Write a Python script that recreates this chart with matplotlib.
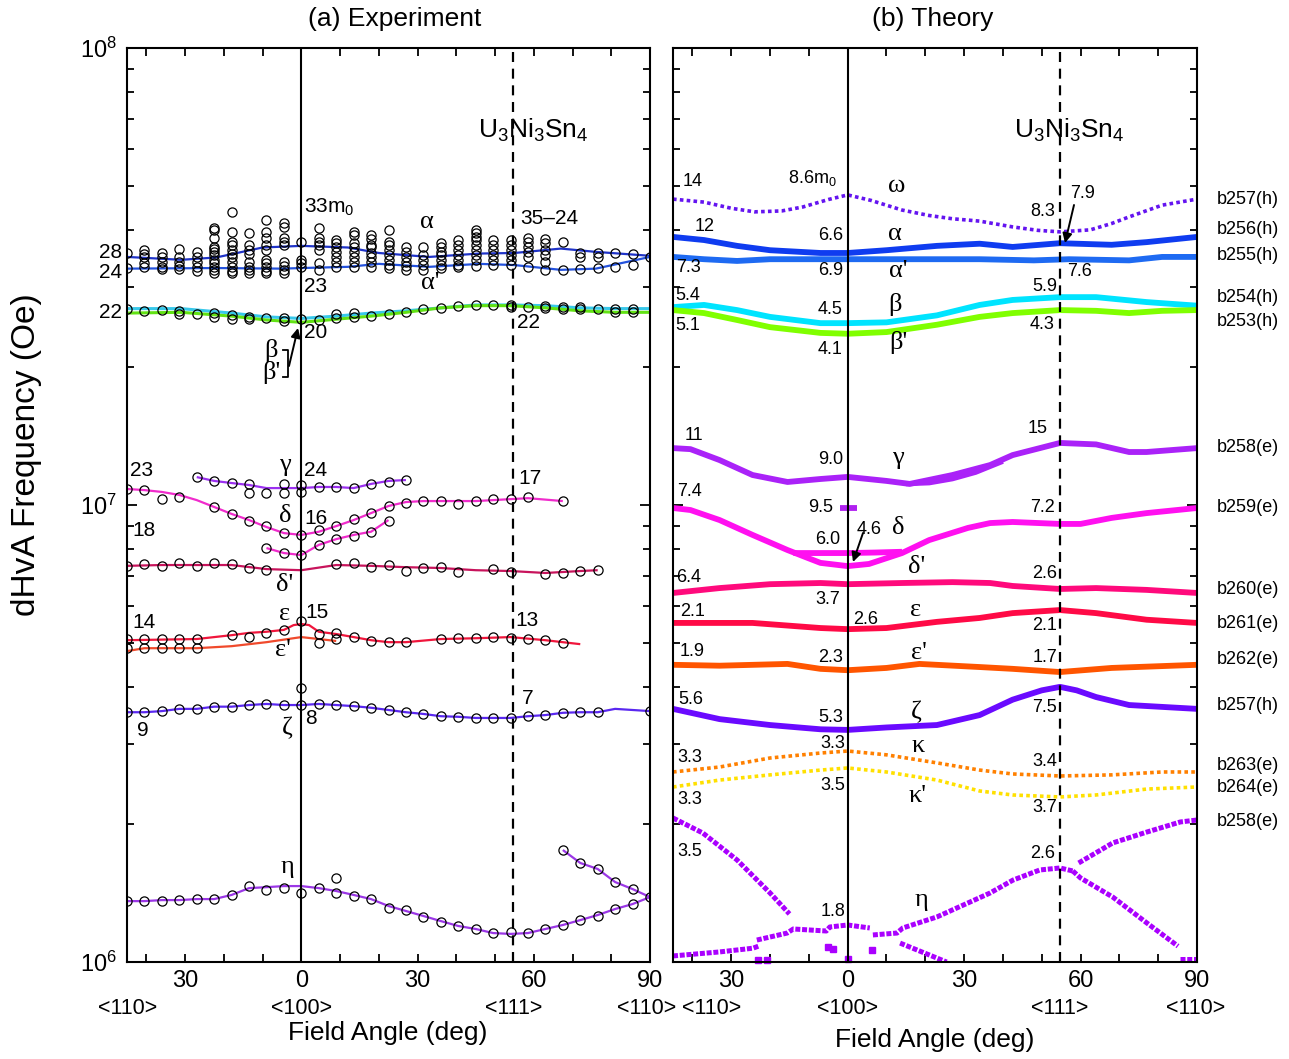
import math
import matplotlib.pyplot as plt
import matplotlib.ticker as mticker
from matplotlib.lines import Line2D
from matplotlib.patches import FancyArrowPatch

W, H = 1289, 1059
SANS = 'Liberation Sans'
SERIF = 'Liberation Serif'
MOE = 1e6  # frequencies below are in units of 10^6 Oe
SYM = 54.74  # <111>

plt.rcParams['font.family'] = [SANS, 'DejaVu Sans']
plt.rcParams['axes.linewidth'] = 1.5
for a in ('xtick', 'ytick'):
    plt.rcParams[a + '.direction'] = 'in'
    plt.rcParams[a + '.major.width'] = 1.3
    plt.rcParams[a + '.minor.width'] = 1.3
plt.rcParams['xtick.top'] = True
plt.rcParams['ytick.right'] = True

# ---------------- (a) experiment : measured points ----------------
col_ang = [-45, -40.5, -36, -31.5, -27, -22.5, -18, -13.5, -9, -4.5, 0, 4.5, 9, 13.5, 18,
           22.5, 27, 31.5, 36, 40.5, 45, 49.5, 54, 58.5, 63, 67.5, 72, 76.5, 81, 85.5, 90]
alpha_pts = [
    [35.6, 33.0], [36.2, 35.5, 34.8, 33.9, 33.2], [35.6, 34.9, 34.1, 33.2, 32.9],
    [36.4, 34.9, 34.1, 33.4, 32.9], [35.8, 34.9, 34.1, 33.2, 32.5],
    [40.4, 40.0, 38.4, 36.7, 36.4, 35.8, 35.3, 34.4, 33.9, 33.2, 32.7, 32.2],
    [43.8, 39.6, 37.7, 37.1, 36.2, 35.5, 34.8, 34.1, 33.2, 32.5, 32.2],
    [39.4, 37.1, 36.2, 35.5, 34.1, 33.2, 32.7, 32.2],
    [42.1, 39.6, 38.4, 37.1, 36.2, 34.4, 33.9, 33.2, 32.5, 32.2],
    [41.4, 40.6, 38.4, 37.7, 37.1, 34.1, 33.4, 32.7, 32.2],
    [37.7, 34.4, 33.9, 33.2], [40.4, 38.4, 37.7, 37.1, 36.2, 33.9, 32.7],
    [38.0, 37.5, 36.7, 35.8, 34.9, 34.1, 33.2], [39.6, 39.0, 37.5, 36.7, 35.8, 34.9, 34.1, 33.2],
    [39.0, 38.2, 37.1, 36.6, 35.6, 34.8, 34.1, 33.2], [40.0, 37.7, 37.1, 36.2, 35.3, 34.4, 33.5, 33.0],
    [36.6, 35.8, 34.9, 34.1, 33.4, 32.7], [36.7, 35.3, 34.4, 33.5, 32.7],
    [37.5, 36.7, 35.8, 35.3, 34.4, 33.5, 33.0], [38.0, 37.1, 36.2, 35.3, 34.4, 33.5, 33.2],
    [40.0, 39.4, 38.6, 38.0, 37.1, 36.2, 35.3, 34.4, 33.4], [38.0, 37.1, 36.2, 35.3, 34.4, 33.5],
    [38.0, 37.1, 36.2, 35.3, 34.4, 33.5], [38.4, 37.7, 36.7, 35.8, 34.9, 33.2],
    [38.2, 37.5, 36.2, 35.3, 34.1, 32.7], [37.7, 32.7], [35.6, 34.8, 32.9], [35.6, 34.9, 33.0],
    [35.6, 33.2], [35.5, 33.5], [34.9],
]
beta_pts = [
    [26.9], [26.6], [26.7], [26.6, 26.2], [26.2], [26.3, 25.8], [26.0, 25.5], [25.8, 25.5],
    [25.6], [25.6, 25.3], [25.5], [25.4], [26.2, 25.6], [26.3, 25.8], [25.9], [26.2], [26.4],
    [26.9], [27.0], [27.3], [27.4], [27.4], [27.4, 27.1], [27.1], [27.3, 27.0], [27.1, 26.9],
    [27.1, 26.9], [26.9], [26.9, 26.4], [26.9, 26.4], [],
]
gamma_pt_ang = [-27, -22.5, -18, -13.5, -13.5, -9, -4.5, -4.5, 0, 0, 4.5, 9, 13.5, 18, 22.5, 27]
gamma_pts = [11.51, 11.29, 11.17, 11.12, 10.62, 10.62, 11.12, 10.62, 11.06, 10.68, 10.95, 10.95,
             10.89, 11.12, 11.23, 11.34]
delta_pt_ang = [-45, -40.5, -36, -31.5, -22.5, -18, -13.5, -9, -4.5, 0, 4.5, 9, 13.5, 18, 22.5,
                27, 31.5, 36, 40.5, 45, 49.5, 54, 58.5, 67.5]
delta_pts = [10.84, 10.78, 10.30, 10.41, 9.90, 9.56, 9.23, 8.99, 8.68, 8.60, 8.82, 8.99, 9.32,
             9.60, 9.95, 10.10, 10.20, 10.20, 10.05, 10.20, 10.30, 10.30, 10.41, 10.20]
delta2_ang = [-9, -4.5, 0, 4.5, 9, 13.5, 18, 22.5]
delta2_pts = [8.05, 7.85, 7.77, 8.18, 8.42, 8.55, 8.74, 9.23]
deltap_pt_ang = [-45, -40.5, -36, -31.5, -27, -22.5, -18, -13.5, -9, 9, 13.5, 18, 22.5, 27, 31.5,
                 36, 40.5, 49.5, 54, 63, 67.5, 72, 76.5]
deltap_pts = [7.36, 7.43, 7.36, 7.47, 7.36, 7.47, 7.43, 7.28, 7.20, 7.43, 7.47, 7.31, 7.39, 7.17,
              7.28, 7.31, 7.13, 7.24, 7.13, 7.06, 7.10, 7.17, 7.20]
eps_pt_ang = [-45, -40.5, -36, -31.5, -27, -18, -13.5, -9, -4.5, 0, 4.5, 9, 13.5, 18, 22.5, 27,
              36, 40.5, 45, 49.5, 54, 58.5, 63, 67.5]
eps_pts = [5.09, 5.09, 5.09, 5.09, 5.09, 5.19, 5.14, 5.25, 5.33, 5.57, 5.22, 5.25, 5.14, 5.04,
           5.01, 5.01, 5.09, 5.11, 5.11, 5.14, 5.11, 5.09, 5.06, 4.99]
epsp_pt_ang = [-45, -40.5, -36, -31.5, -27, 4.5, 9]
epsp_pts = [4.86, 4.86, 4.86, 4.86, 4.86, 4.99, 5.09]
zeta_pt_ang = [-45, -40.5, -36, -31.5, -27, -22.5, -18, -13.5, -9, -4.5, 0, 4.5, 9, 13.5, 18, 22.5,
               27, 31.5, 36, 40.5, 45, 49.5, 54, 58.5, 63, 67.5, 72, 76.5, 90, 0]
zeta_pts = [3.52, 3.52, 3.54, 3.58, 3.58, 3.62, 3.62, 3.65, 3.67, 3.65, 3.65, 3.67, 3.65, 3.63,
            3.60, 3.56, 3.52, 3.49, 3.45, 3.44, 3.42, 3.42, 3.42, 3.45, 3.47, 3.51, 3.52, 3.52,
            3.54, 3.98]
eta_pt_ang = col_ang + [9, 67.5, 72, 76.5, 81, 85.5]
eta_pts = [1.359, 1.359, 1.359, 1.366, 1.373, 1.373, 1.402, 1.466, 1.437, 1.451, 1.416, 1.451,
           1.416, 1.395, 1.373, 1.313, 1.300, 1.255, 1.223, 1.199, 1.181, 1.157, 1.164, 1.157,
           1.181, 1.205, 1.235, 1.261, 1.306, 1.339, 1.387,
           1.527, 1.758, 1.647, 1.598, 1.496, 1.444]

# ---------------- (a) experiment : fitted curves ----------------
alpha_ln_ang = [-45, -31, -22, -10, 0, 12, 20, 33, 46, 55, 67, 76, 90]
alpha_ln = [34.9, 34.4, 34.8, 36.6, 36.9, 36.6, 35.6, 34.9, 35.5, 35.6, 36.4, 35.8, 35.1]
alphap_ln_ang = [-45, -22, -5, 0, 12, 20, 33, 46, 55, 67, 76, 90]
alphap_ln = [32.9, 33.0, 32.9, 33.0, 33.2, 33.7, 33.2, 33.7, 33.5, 32.7, 32.9, 34.9]
beta_ln_ang = [-45, -31, -18, -9, 0, 9, 18, 27, 36, 45, 54, 63, 72, 81, 90]
beta_ln = [26.9, 26.9, 26.3, 25.8, 25.6, 25.9, 26.3, 26.6, 27.0, 27.4, 27.4, 27.3, 27.0, 26.9, 26.9]
betap_ln = [26.3, 26.4, 25.9, 25.4, 25.1, 25.5, 25.9, 26.4, 27.0, 27.3, 27.3, 27.0, 26.6, 26.4, 26.4]
gamma_ln_ang = [-27, -22.5, -18, -13.5, -9, -4.5, 0, 4.5, 9, 13.5, 18, 22.5, 27]
gamma_ln = [11.51, 11.29, 11.17, 11.06, 10.89, 10.89, 10.89, 10.95, 10.95, 10.89, 11.12, 11.29, 11.34]
delta_ln_ang = [-45, -40.5, -36, -31.5, -27, -22.5, -18, -13.5, -9, -4.5, 0, 4.5, 9, 13.5, 18,
                22.5, 27, 31.5, 36, 45, 54, 58.5, 67.5]
delta_ln = [10.84, 10.78, 10.68, 10.52, 10.25, 9.90, 9.56, 9.27, 8.95, 8.68, 8.60, 8.74, 8.99,
            9.27, 9.60, 9.95, 10.15, 10.20, 10.20, 10.20, 10.30, 10.35, 10.20]
delta2_ln = [8.05, 7.85, 7.77, 8.18, 8.42, 8.60, 8.74, 9.27]
deltap_ln_ang = [-45, -36, -27, -18, -9, 0, 9, 18, 27, 36, 45, 54, 63, 72, 76.5]
deltap_ln = [7.36, 7.39, 7.39, 7.39, 7.24, 7.20, 7.39, 7.36, 7.31, 7.28, 7.20, 7.17, 7.10, 7.17, 7.20]
eps_ln_ang = [-45, -27, -18, -13.5, -9, -4.5, -2, 0, 2, 4.5, 9, 13.5, 18, 22.5, 27, 36, 45, 54, 63, 72]
eps_ln = [5.06, 5.09, 5.19, 5.25, 5.28, 5.33, 5.46, 5.49, 5.46, 5.28, 5.22, 5.14, 5.06, 5.01,
          5.01, 5.09, 5.11, 5.14, 5.06, 4.96]
epsp_ln_ang = [-45, -40.5, -27, -18, -9, 0, 4.5, 9]
epsp_ln = [4.79, 4.86, 4.86, 4.91, 5.01, 5.14, 5.09, 5.04]
zeta_ln_ang = col_ang[:28] + [81, 90]
zeta_ln = zeta_pts[:28] + [3.58, 3.54]
eta_ln_ang = [-45, -40.5, -36, -31.5, -27, -22.5, -18, -13.5, -9, -4.5, 0, 4.5, 9, 13.5, 18, 22.5,
              27, 31.5, 36, 40.5, 45, 49.5, 54, 58.5, 63, 67.5, 72, 76.5, 81, 85.5, 90]
eta_ln = [1.359, 1.359, 1.366, 1.366, 1.373, 1.373, 1.402, 1.451, 1.458, 1.466, 1.466, 1.451,
          1.430, 1.402, 1.373, 1.326, 1.293, 1.261, 1.229, 1.199, 1.181, 1.157, 1.152, 1.157,
          1.181, 1.205, 1.235, 1.267, 1.306, 1.339, 1.387]
eta2_ln_ang = [67.5, 72, 76.5, 81, 85.5, 90]
eta2_ln = [1.758, 1.647, 1.598, 1.496, 1.444, 1.387]

# ---------------- (b) theory ----------------
omega_ang = [-45, -37, -30, -24, -17, -11.5, -5, 0, 6, 14, 21, 27, 34, 42.5, 49, 54.7, 62.5,
             68, 72.5, 81, 90]
omega = [46.7, 46.0, 44.6, 43.8, 44.0, 44.9, 46.6, 47.7, 46.4, 44.2, 43.0, 42.3, 41.8, 40.6,
         39.9, 39.6, 40.0, 41.3, 42.7, 45.3, 46.7]
th_alpha_ang = [-45, -37, -28.5, -20, -7, 0, 10, 23, 34, 42.5, 54.7, 68, 77, 90]
th_alpha = [38.6, 38.0, 36.9, 36.1, 35.6, 35.6, 36.1, 36.9, 37.3, 36.7, 37.4, 37.1, 37.6, 38.6]
th_alphap_ang = [-45, -37, -28.5, -20, 0, 14, 34, 48, 57, 72.5, 81, 90]
th_alphap = [34.9, 34.5, 34.2, 34.5, 34.5, 34.5, 34.5, 34.3, 34.5, 34.3, 34.9, 34.9]
th_beta_ang = [-45, -37, -28.5, -20, -7, 0, 10, 23, 34, 42.5, 54.7, 64, 77, 90]
th_beta = [27.1, 27.4, 26.7, 25.8, 25.0, 25.0, 25.1, 26.0, 27.4, 28.1, 28.5, 28.5, 27.8, 27.3]
th_betap_ang = [-45, -37, -28.5, -20, -7, 0, 10, 23, 34, 42.5, 54.7, 64, 72.5, 81, 90]
th_betap = [26.7, 26.3, 25.4, 24.5, 23.8, 23.7, 23.9, 24.8, 25.8, 26.3, 26.7, 26.6, 26.3, 26.6, 26.7]
th_gamma_ang = [-45, -40.5, -33, -24.5, -15.5, -7, 0, 10, 16, 27, 36.7, 42.5, 54.7, 64, 72.5, 77, 90]
th_gamma = [13.32, 13.25, 12.54, 11.63, 11.23, 11.40, 11.52, 11.29, 11.12, 11.63, 12.23, 12.86,
            13.67, 13.57, 13.06, 13.06, 13.32]
th_gamma2_ang = [15, 21, 27, 33, 40]
th_gamma2 = [11.12, 11.17, 11.40, 11.78, 12.45]
th_g95_ang = [-2, 2.5]
th_g95 = [9.85, 9.85]
th_delta_ang = [-45, -40.5, -33, -24.5, -15.5, -11, -7, 0, 5.5, 14, 21, 31, 36.7, 42.5, 54.7, 60,
                68, 77, 90]
th_delta = [9.85, 9.75, 9.27, 8.60, 7.97, 7.70, 7.47, 7.35, 7.43, 7.85, 8.38, 8.91, 9.13, 9.18,
            9.09, 9.09, 9.37, 9.60, 9.85]
th_delta2_ang = [-14, -7, 0, 7, 14]
th_delta2 = [7.85, 7.85, 7.85, 7.87, 7.90]
th_deltap_ang = [-45, -33, -20, -7, 0, 14, 27, 36.7, 42.5, 54.7, 64, 77, 90]
th_deltap = [6.42, 6.58, 6.71, 6.75, 6.71, 6.75, 6.78, 6.75, 6.65, 6.55, 6.58, 6.52, 6.42]
th_eps_ang = [-45, -24.5, -7, 0, 10, 23, 34, 42.5, 54.7, 64, 77, 90]
th_eps = [5.52, 5.52, 5.38, 5.35, 5.38, 5.55, 5.66, 5.80, 5.89, 5.80, 5.61, 5.52]
th_epsp_ang = [-45, -33, -15.5, -7, 0, 10, 18.5, 34, 42.5, 54.7, 68, 90]
th_epsp = [4.47, 4.45, 4.49, 4.38, 4.35, 4.40, 4.49, 4.42, 4.38, 4.31, 4.40, 4.47]
th_zeta_ang = [-45, -33, -20, -7, 0, 10, 23, 34, 42.5, 50, 54.7, 59, 64, 72.5, 90]
th_zeta = [3.58, 3.40, 3.30, 3.23, 3.22, 3.26, 3.30, 3.47, 3.75, 3.93, 4.00, 3.93, 3.80, 3.65, 3.58]
th_kappa_ang = [-45, -33, -20, -7, 0, 10, 23, 34, 42.5, 54.7, 68, 81, 90]
th_kappa = [2.605, 2.671, 2.795, 2.866, 2.895, 2.84, 2.727, 2.63, 2.579, 2.553, 2.567, 2.605, 2.605]
th_kappap_ang = [-45, -33, -20, -7, 0, 10, 23, 34, 42.5, 54.7, 64, 77, 90]
th_kappap = [2.415, 2.501, 2.567, 2.63, 2.658, 2.605, 2.501, 2.367, 2.32, 2.297, 2.32, 2.39, 2.415]
# eta (b258) splits into several branches
th_eta_a_ang = [-45, -37.3, -28.5, -20, -15]
th_eta_a = [2.066, 1.915, 1.672, 1.416, 1.274]
th_eta_b_ang = [-45, -33, -24.4, -23]
th_eta_b = [1.031, 1.052, 1.072, 1.083]
th_eta_c_ang = [-23.4, -15.6, -14, -5.5, -4.6, 0, 5.7]
th_eta_c = [1.117, 1.157, 1.181, 1.169, 1.193, 1.205, 1.187]
th_eta_d_ang = [6.5, 12.7, 14.2, 23, 36.7, 42.6, 49.5, 54.7, 58]
th_eta_d = [1.146, 1.157, 1.187, 1.255, 1.416, 1.511, 1.59, 1.606, 1.582]
th_eta_e_ang = [58, 60, 68.3, 77.1, 85.1]
th_eta_e = [1.582, 1.527, 1.387, 1.217, 1.083]
th_eta_f_ang = [59.5, 68.3, 77.1, 85.7, 90]
th_eta_f = [1.647, 1.822, 1.925, 2.025, 2.045]
th_eta_g_ang = [13.5, 23, 25.5]
th_eta_g = [1.100, 1.020, 1.0]
th_eta_h_ang = [85.7, 90]
th_eta_h = [1.015, 1.015]
th_eta_dot_ang = [-23.1, -20.8, -5.1, -3.8, 0, 6.3]
th_eta_dot = [1.010, 1.010, 1.077, 1.066, 1.015, 1.061]

band_names = ['b257(h)', 'b256(h)', 'b255(h)', 'b254(h)', 'b253(h)', 'b258(e)', 'b259(e)',
              'b260(e)', 'b261(e)', 'b262(e)', 'b257(h)', 'b263(e)', 'b264(e)', 'b258(e)']
band_ypix = [199, 230, 255, 297, 322, 448, 508, 590, 623, 660, 705, 765, 787, 821]


def scale(v):
    return [x * MOE for x in v]


def curve(ax, ang, val, color, lw=1.6, **kw):
    ax.plot(ang, scale(val), color=color, lw=lw, solid_capstyle='butt',
            solid_joinstyle='round', zorder=2, **kw)


def circles(ax, ang, val):
    ax.plot(ang, scale(val), 'o', ms=6.6, mfc='none', mec='k', mew=0.9, zorder=4)


def put(x, y, s, ha='left', size=13, family=SANS, **kw):
    # x, y in pixels from the top-left corner of the image
    fig.text(x / W, 1 - y / H, s, ha=ha, va='center', fontsize=size, family=family, **kw)


def greek(x, y, s):
    put(x, y, s, ha='center', size=19, family=SERIF)


def arrow(x0, y0, x1, y1):
    fig.add_artist(FancyArrowPatch(
        (x0 / W, 1 - y0 / H), (x1 / W, 1 - y1 / H), transform=fig.transFigure,
        arrowstyle='-|>', mutation_scale=14, color='k', lw=1.4, shrinkA=0, shrinkB=0))


def style_axes(ax, ylabels):
    ax.set_yscale('log')
    ax.set_ylim(1e6, 1e8)
    ax.set_xlim(-45, 90)
    ax.xaxis.set_major_locator(mticker.FixedLocator([-30, 0, 30, 60, 90]))
    ax.xaxis.set_minor_locator(mticker.FixedLocator([-40, -20, -10, 10, 20, 40, 50, 70, 80]))
    ax.xaxis.set_major_formatter(mticker.FuncFormatter(lambda v, p: '%d' % abs(v)))
    ax.yaxis.set_minor_formatter(mticker.NullFormatter())
    if ylabels:
        ax.yaxis.set_major_formatter(mticker.FuncFormatter(
            lambda v, p: r'$\mathregular{10^{%d}}$' % round(math.log10(v))))
    else:
        ax.yaxis.set_major_formatter(mticker.NullFormatter())
    ax.tick_params(axis='x', which='both', length=6, labelsize=17, pad=6)
    ax.tick_params(axis='y', which='major', length=7, labelsize=17, pad=7)
    ax.tick_params(axis='y', which='minor', length=5)
    ax.axvline(0, color='k', lw=1.5, zorder=3)
    ax.axvline(SYM, color='k', lw=1.6, ls=(0, (4.5, 3)), zorder=3)


fig = plt.figure(figsize=(W / 100, H / 100), dpi=100)
ax1 = fig.add_axes([127 / W, 97 / H, 523 / W, 914 / H])
ax2 = fig.add_axes([673 / W, 97 / H, 524 / W, 914 / H])
style_axes(ax1, True)
style_axes(ax2, False)

# ---- panel (a) ----
curve(ax1, alpha_ln_ang, alpha_ln, '#1f33c8')
curve(ax1, alphap_ln_ang, alphap_ln, '#2452dc')
curve(ax1, beta_ln_ang, beta_ln, '#38c8ea', lw=2.2)
curve(ax1, beta_ln_ang, betap_ln, '#62e214', lw=2.2)
curve(ax1, gamma_ln_ang, gamma_ln, '#9b30f0')
curve(ax1, delta_ln_ang, delta_ln, '#f02ccc')
curve(ax1, delta2_ang, delta2_ln, '#f02ccc')
curve(ax1, deltap_ln_ang, deltap_ln, '#c8145c')
curve(ax1, eps_ln_ang, eps_ln, '#f0163c')
curve(ax1, epsp_ln_ang, epsp_ln, '#f04a2c')
curve(ax1, zeta_ln_ang, zeta_ln, '#5a28f0')
curve(ax1, eta_ln_ang, eta_ln, '#9b37e6')
curve(ax1, eta2_ln_ang, eta2_ln, '#9b37e6')

for a, vals in zip(col_ang, alpha_pts):
    circles(ax1, [a] * len(vals), vals)
for a, vals in zip(col_ang, beta_pts):
    circles(ax1, [a] * len(vals), vals)
circles(ax1, gamma_pt_ang, gamma_pts)
circles(ax1, delta_pt_ang, delta_pts)
circles(ax1, delta2_ang, delta2_pts)
circles(ax1, deltap_pt_ang, deltap_pts)
circles(ax1, eps_pt_ang, eps_pts)
circles(ax1, epsp_pt_ang, epsp_pts)
circles(ax1, zeta_pt_ang, zeta_pts)
circles(ax1, eta_pt_ang, eta_pts)

# ---- panel (b) ----
TH = 4.2
DOTS = (0, (1, 0.9))
curve(ax2, omega_ang, omega, '#6414f0', lw=2.6, ls=DOTS)
curve(ax2, th_alpha_ang, th_alpha, '#0f3cf0', lw=TH)
curve(ax2, th_alphap_ang, th_alphap, '#1e6af2', lw=TH)
curve(ax2, th_beta_ang, th_beta, '#00e4ff', lw=TH)
curve(ax2, th_betap_ang, th_betap, '#80ff00', lw=TH)
curve(ax2, th_gamma_ang, th_gamma, '#aa22f8', lw=TH)
curve(ax2, th_gamma2_ang, th_gamma2, '#aa22f8', lw=TH * 0.8)
curve(ax2, th_g95_ang, th_g95, '#b020f0', lw=TH)
curve(ax2, th_delta_ang, th_delta, '#ff10f0', lw=TH)
curve(ax2, th_delta2_ang, th_delta2, '#ff10f0', lw=TH)
curve(ax2, th_deltap_ang, th_deltap, '#ff0a7c', lw=TH)
curve(ax2, th_eps_ang, th_eps, '#ff0a46', lw=TH)
curve(ax2, th_epsp_ang, th_epsp, '#ff5500', lw=TH)
curve(ax2, th_zeta_ang, th_zeta, '#6a0aff', lw=TH)
curve(ax2, th_kappa_ang, th_kappa, '#ff8000', lw=2.6, ls=DOTS)
curve(ax2, th_kappap_ang, th_kappap, '#ffe000', lw=2.6, ls=DOTS)
ETA = '#aa00ff'
for ang, val in [(th_eta_a_ang, th_eta_a), (th_eta_b_ang, th_eta_b), (th_eta_c_ang, th_eta_c),
                 (th_eta_d_ang, th_eta_d), (th_eta_e_ang, th_eta_e), (th_eta_f_ang, th_eta_f),
                 (th_eta_g_ang, th_eta_g), (th_eta_h_ang, th_eta_h)]:
    curve(ax2, ang, val, ETA, lw=3.6, ls=(0, (1, 0.35)))
ax2.plot(th_eta_dot_ang, scale(th_eta_dot), 's', ms=4, color=ETA, zorder=2, clip_on=False)

# ---- titles, axis labels, crystal directions ----
put(395, 19, '(a) Experiment', ha='center', size=19)
put(933, 19, '(b) Theory', ha='center', size=19)
put(388, 1033, 'Field Angle (deg)', ha='center', size=19)
put(935, 1040, 'Field Angle (deg)', ha='center', size=19)
fig.text(27 / W, 1 - 455 / H, 'dHvA Frequency (Oe)', rotation=90, ha='center', va='center',
         fontsize=24)
for x, s in [(128, '<110>'), (302, '<100>'), (514, '<111>'), (647, '<110>'),
             (712, '<110>'), (848, '<100>'), (1060, '<111>'), (1196, '<110>')]:
    put(x, 1008, s, ha='center', size=15.5)
put(533, 130, r'$\mathregular{U_3Ni_3Sn_4}$', ha='center', size=19)
put(1069, 130, r'$\mathregular{U_3Ni_3Sn_4}$', ha='center', size=19)

# ---- panel (a) labels ----
for x, y, s, ha in [(122, 253, '28', 'right'), (122, 272, '24', 'right'), (122, 312, '22', 'right'),
                    (304, 207, r'$\mathregular{33m_0}$', 'left'), (520, 219, '35\u201324', 'left'),
                    (304, 287, '23', 'left'), (304, 333, '20', 'left'), (517, 323, '22', 'left'),
                    (130, 471, '23', 'left'), (304, 471, '24', 'left'), (518, 479, '17', 'left'),
                    (304, 518, '16', 'left'), (132, 531, '18', 'left'), (305, 612, '15', 'left'),
                    (132, 623, '14', 'left'), (515, 621, '13', 'left'), (305, 718, '8', 'left'),
                    (137, 730, '9', 'left'), (522, 699, '7', 'left')]:
    put(x, y, s, ha=ha, size=15)
for x, y, s in [(427, 222, '\u03b1'), (430, 283, "\u03b1'"), (271, 350, '\u03b2'),
                (271, 373, "\u03b2'"), (285, 465, '\u03b3'), (285, 516, '\u03b4'),
                (285, 585, "\u03b4'"), (285, 614, '\u03b5'), (283, 650, "\u03b5'"),
                (287, 728, '\u03b6'), (287, 867, '\u03b7')]:
    greek(x, y, s)
fig.add_artist(Line2D([283 / W, 288 / W, 288 / W, 283 / W],
                      [1 - 350 / H, 1 - 350 / H, 1 - 377 / H, 1 - 377 / H],
                      color='k', lw=1.3, transform=fig.transFigure))
arrow(289, 366, 298, 328)

# ---- panel (b) labels ----
for x, y, s, ha in [(683, 182, '14', 'left'), (788, 178, r'$\mathregular{8.6m_0}$', 'left'),
                    (1055, 212, '8.3', 'right'), (1070, 194, '7.9', 'left'),
                    (695, 226, '12', 'left'), (843, 235, '6.6', 'right'),
                    (676, 268, '7.3', 'left'), (843, 270, '6.9', 'right'), (1067, 272, '7.6', 'left'),
                    (675, 296, '5.4', 'left'), (843, 310, '4.5', 'right'), (1057, 287, '5.9', 'right'),
                    (675, 326, '5.1', 'left'), (843, 349, '4.1', 'right'), (1055, 324, '4.3', 'right'),
                    (685, 436, '11', 'left'), (843, 460, '9.0', 'right'), (1048, 429, '15', 'right'),
                    (677, 491, '7.4', 'left'), (833, 507, '9.5', 'right'), (1055, 507, '7.2', 'right'),
                    (840, 539, '6.0', 'right'), (857, 529, '4.6', 'left'),
                    (676, 577, '6.4', 'left'), (1057, 574, '2.6', 'right'),
                    (840, 599, '3.7', 'right'), (680, 612, '2.1', 'left'), (853, 619, '2.6', 'left'),
                    (1057, 625, '2.1', 'right'),
                    (680, 652, '1.9', 'left'), (843, 658, '2.3', 'right'), (1057, 657, '1.7', 'right'),
                    (678, 699, '5.6', 'left'), (843, 718, '5.3', 'right'), (1057, 708, '7.5', 'right'),
                    (845, 744, '3.3', 'right'), (677, 757, '3.3', 'left'), (1057, 762, '3.4', 'right'),
                    (845, 786, '3.5', 'right'), (677, 799, '3.3', 'left'), (1057, 807, '3.7', 'right'),
                    (677, 851, '3.5', 'left'), (845, 912, '1.8', 'right'), (1055, 853, '2.6', 'right')]:
    put(x, y, s, ha=ha, size=13)
for x, y, s in [(897, 186, '\u03c9'), (895, 234, '\u03b1'), (898, 271, "\u03b1'"),
                (895, 305, '\u03b2'), (898, 343, "\u03b2'"), (898, 458, '\u03b3'),
                (898, 528, '\u03b4'), (917, 567, "\u03b4'"), (916, 610, '\u03b5'),
                (919, 653, "\u03b5'"), (916, 712, '\u03b6'), (918, 746, '\u03ba'),
                (918, 796, "\u03ba'"), (921, 900, '\u03b7')]:
    greek(x, y, s)
arrow(1074, 205, 1065, 243)
arrow(863, 533, 853, 562)
for name, y in zip(band_names, band_ypix):
    put(1217, y, name, size=13)

fig.savefig('out.png', dpi=100)
